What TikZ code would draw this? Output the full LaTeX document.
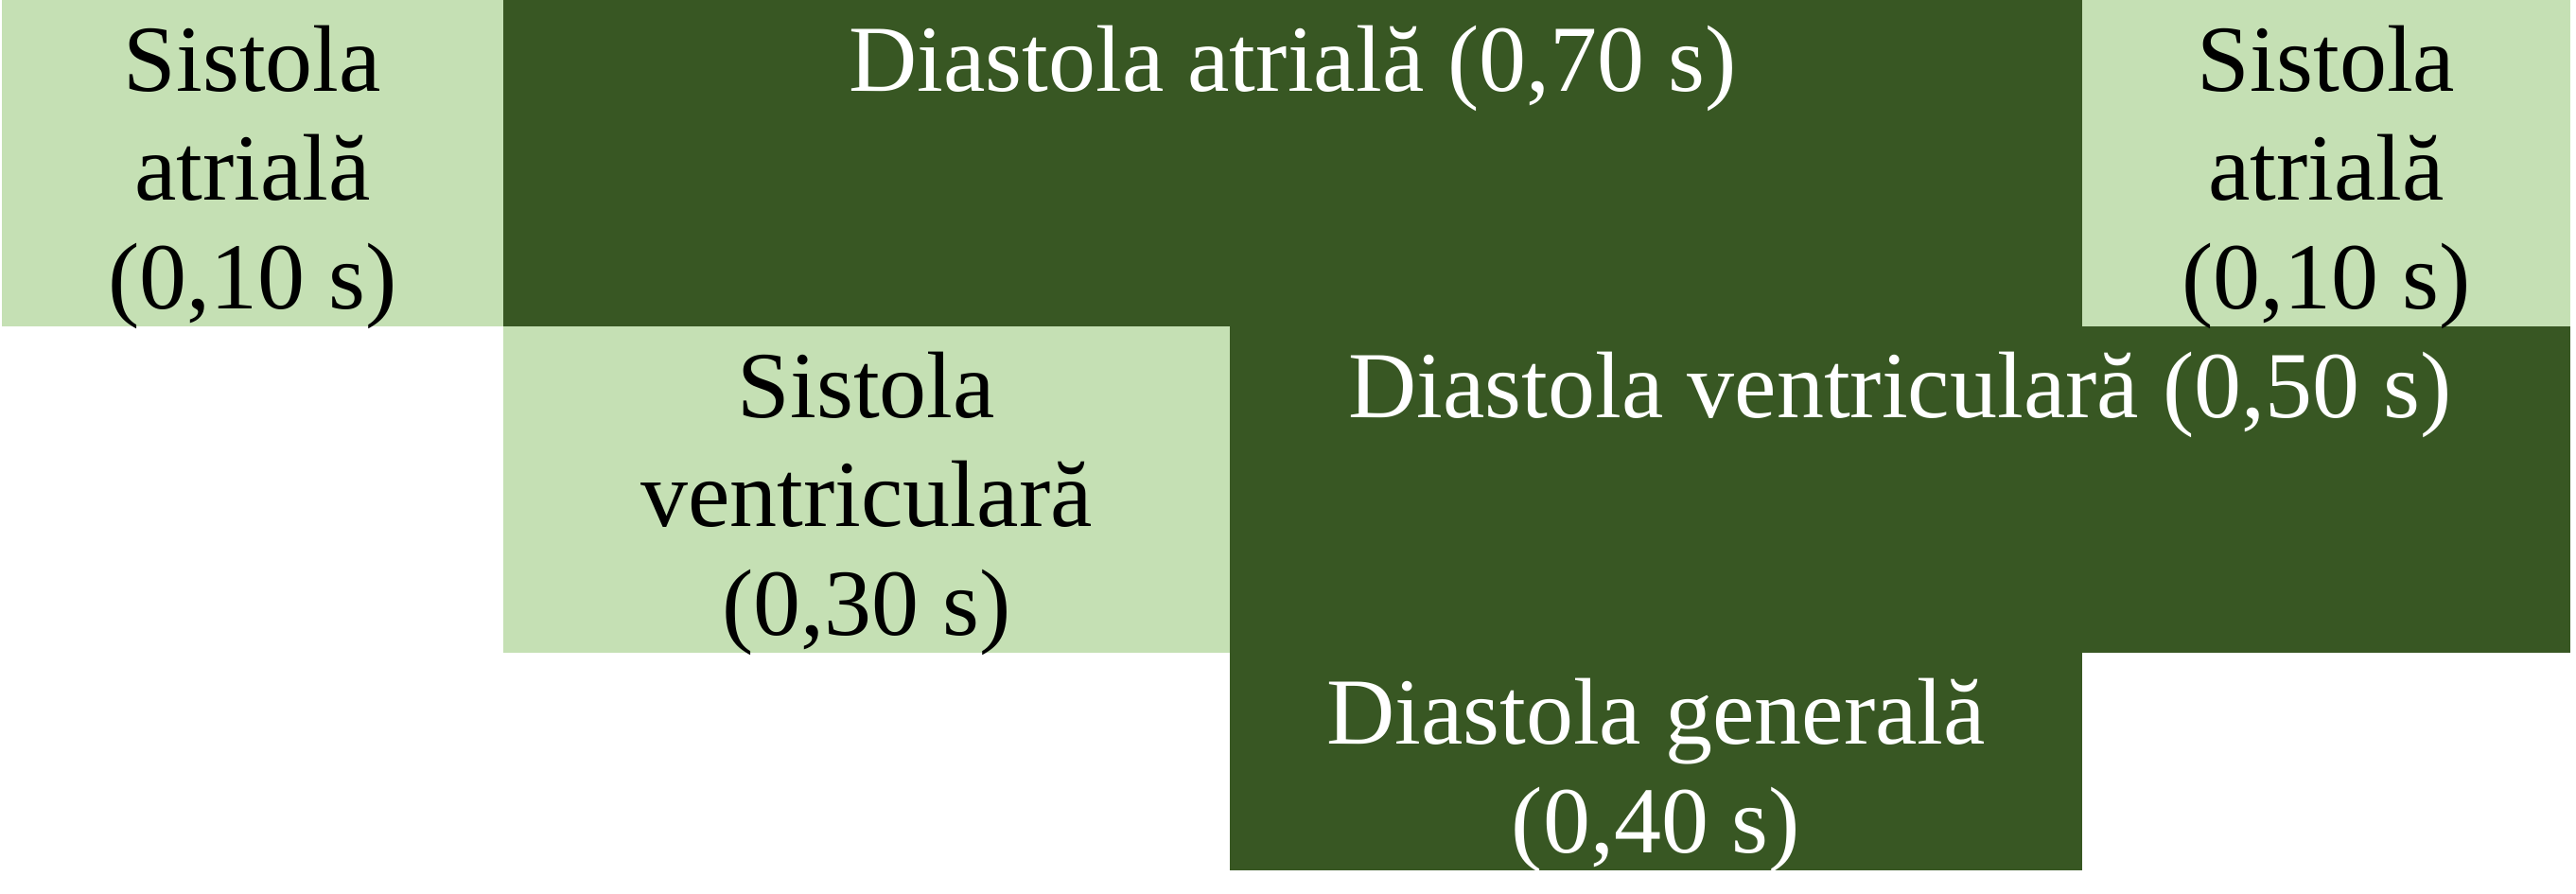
\documentclass[tikz,border=0pt]{standalone}
\usepackage{fontspec}
\setmainfont{Liberation Serif}
\usepackage{tikz}
\usetikzlibrary{positioning}
\definecolor{lightgreen}{HTML}{C5E0B4}
\definecolor{darkgreen}{HTML}{385723}

\begin{document}
\begin{tikzpicture}[inner sep=0pt,outer sep=0pt,
      phase/.style={rectangle,minimum height=34.5mm},
      light phase/.style={phase,fill=lightgreen},
      dark phase/.style={phase,fill=darkgreen},
      phase text/.style={anchor=north,align=center,
        font=\fontsize{28.45pt}{32.7pt}\selectfont},
      light text/.style={phase text,text=black},
      dark text/.style={phase text,text=white}]

      \useasboundingbox (0,0) rectangle (272.3mm,-94.4mm);

      % top row: atria
      \node[light phase,minimum width=53mm,anchor=north west] (sa1) at (0.2mm,0) {};
      \node[dark phase,minimum width=166.9mm] (da) [right=0pt of sa1] {};
      \node[light phase,minimum width=51.6mm] (sa2) [right=0pt of da] {};

      % middle row: ventricles
      \node[light phase,minimum width=76.8mm,anchor=north west] (sv) at (sa1.south east) {};
      \node[dark phase,minimum width=141.7mm] (dv) [right=0pt of sv] {};

      % bottom row
      \node[dark phase,minimum width=90.1mm,minimum height=23mm,anchor=north west] (dg) at (dv.south west) {};

      \node[light text] (sa1 text) at ([yshift=-2.7mm]sa1.north) {Sistola\\atrială\\(0,10 s)};
      \node[dark text] (da text) at ([yshift=-2.7mm]da.north) {Diastola atrială (0,70 s)};
      \node[light text] (sa2 text) at ([yshift=-2.7mm]sa2.north) {Sistola\\atrială\\(0,10 s)};
      \node[light text] (sv text) at ([yshift=-2.7mm]sv.north) {Sistola\\ventriculară\\(0,30 s)};
      \node[dark text] (dv text) at ([yshift=-2.7mm]dv.north) {Diastola ventriculară (0,50 s)};
      \node[dark text] (dg text) at ([yshift=-2.7mm]dg.north) {Diastola generală\\(0,40 s)};
    \end{tikzpicture}
\end{document}
